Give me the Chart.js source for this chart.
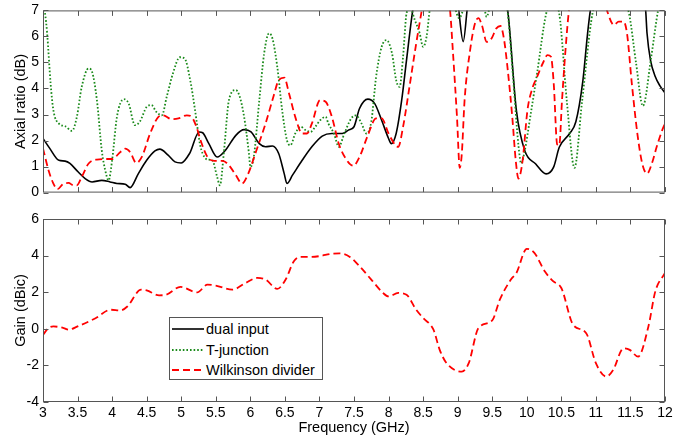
<!DOCTYPE html>
<html>
<head>
<meta charset="utf-8">
<script src="https://cdn.jsdelivr.net/npm/chart.js@4"></script>
<style>
  body { margin: 0; background: #fff; }
  #wrap { position: relative; width: 686px; height: 437px; overflow: hidden; font-family: "Liberation Sans", Arial, sans-serif; }
  #cTop { position: absolute; left: 0; top: 0; }
  #cBot { position: absolute; left: 0; top: 200px; }
  #legend { position: absolute; left: 169px; top: 317px; width: 152px; height: 61px; border: 1px solid #555; background: #fff; font-size: 14.5px; color: #000; }
  .row { position: absolute; left: 0; width: 152px; height: 20px; }
  .row svg { position: absolute; left: 2px; top: 0; }
  .row span { position: absolute; left: 36px; top: 1px; line-height: 18px; white-space: nowrap; }
</style>
</head>
<body>
<div id="wrap">
  <canvas id="cTop" width="686" height="200"></canvas>
  <canvas id="cBot" width="686" height="237"></canvas>
  <div id="legend"></div>
</div>
<script>
// ===== Data =====
const xMin = 3, xMax = 12;

// Axial ratio, dual input (black)
const freqDual = [3.0, 3.1, 3.23, 3.32, 3.39, 3.51, 3.61, 3.71, 3.85, 3.97, 4.07, 4.19, 4.26, 4.38, 4.5, 4.62, 4.69, 4.81, 4.91, 5.0,
  5.12, 5.26, 5.31, 5.4, 5.52, 5.64, 5.79, 5.91, 6.01, 6.13, 6.22, 6.32, 6.41, 6.49, 6.53, 6.61, 6.75, 6.89, 7.04, 7.18,
  7.33, 7.42, 7.5, 7.58, 7.7, 7.8, 7.9, 8.0, 8.04, 8.11, 8.19, 8.26, 8.35, 8.5, 8.8, 9.0, 9.08, 9.15, 9.4, 9.65,
  9.73, 9.85, 9.97, 10.13, 10.28, 10.39, 10.47, 10.62, 10.71, 10.81, 10.88, 10.92, 11.0, 11.3, 11.65, 11.72, 11.74, 11.79, 11.86, 11.93, 12.0];
const arDual = [2.08, 1.69, 1.24, 1.21, 1.12, 0.79, 0.54, 0.41, 0.47, 0.41, 0.35, 0.32, 0.19, 0.73, 1.24, 1.6, 1.67, 1.44, 1.18, 1.14,
  1.5, 2.33, 2.3, 1.88, 1.37, 1.63, 2.2, 2.42, 2.33, 1.88, 1.76, 1.79, 1.5, 0.73, 0.35, 0.67, 1.24, 1.76, 2.17, 2.27,
  2.27, 2.4, 2.53, 3.23, 3.59, 3.42, 2.78, 2.08, 1.88, 2.27, 3.55, 5.09, 7.0, 9.0, 9.0, 7.3, 5.8, 7.3, 9.0, 8.0,
  6.87, 3.15, 1.62, 1.1, 0.72, 0.99, 1.74, 2.27, 2.72, 4.26, 6.12, 7.0, 8.0, 9.0, 8.0, 7.0, 6.12, 5.09, 4.45, 4.09, 3.83];

// Axial ratio, T-junction (green)
const freqTj = [3.0, 3.03, 3.06, 3.11, 3.15, 3.23, 3.32, 3.42, 3.49, 3.56, 3.66, 3.71, 3.78, 3.85, 3.9, 3.95, 4.0, 4.07, 4.17, 4.24,
  4.33, 4.4, 4.5, 4.57, 4.64, 4.72, 4.79, 4.88, 4.98, 5.05, 5.13, 5.2, 5.27, 5.31, 5.38, 5.45, 5.52, 5.56, 5.62, 5.69,
  5.79, 5.84, 5.91, 5.98, 6.0, 6.05, 6.13, 6.2, 6.27, 6.32, 6.39, 6.46, 6.53, 6.58, 6.65, 6.73, 6.8, 6.87, 6.94, 7.01,
  7.09, 7.13, 7.21, 7.28, 7.36, 7.46, 7.53, 7.61, 7.68, 7.75, 7.82, 7.9, 7.97, 8.05, 8.11, 8.16, 8.21, 8.26, 8.31, 8.38,
  8.45, 8.5, 8.55, 8.6, 8.75, 8.95, 9.02, 9.1, 9.25, 9.38, 9.42, 9.47, 9.6, 9.72, 9.8, 9.88, 9.92, 9.97, 10.05, 10.15,
  10.28, 10.37, 10.47, 10.58, 10.69, 10.8, 10.95, 11.2, 11.48, 11.58, 11.68, 11.8, 11.9, 12.0];
const arTj = [7.3, 6.88, 6.12, 4.19, 3.17, 2.65, 2.55, 2.37, 2.91, 4.06, 4.77, 4.64, 3.55, 1.63, 0.86, 0.47, 1.24, 2.91, 3.59, 3.42,
  2.59, 2.72, 3.29, 3.36, 3.1, 2.97, 3.68, 4.58, 5.2, 5.15, 4.32, 3.17, 1.88, 1.5, 1.27, 1.24, 0.6, 0.28, 1.63, 3.55,
  3.94, 3.74, 2.91, 1.5, 0.99, 1.37, 3.55, 5.35, 6.12, 5.92, 4.83, 3.17, 2.01, 1.82, 2.27, 2.53, 2.4, 2.33, 2.53, 2.78,
  2.91, 2.65, 2.27, 1.76, 2.27, 2.85, 2.97, 2.65, 2.27, 2.72, 4.45, 5.6, 5.86, 5.35, 4.32, 4.06, 5.22, 6.88, 7.1, 6.63,
  6.12, 5.6, 5.99, 7.1, 8.5, 7.2, 6.7, 7.2, 8.5, 7.2, 6.75, 7.2, 8.0, 7.0, 4.5, 1.8, 1.12, 1.6, 2.9, 4.6,
  6.87, 7.4, 6.87, 3.5, 0.95, 3.5, 6.87, 8.5, 6.87, 5.0, 3.33, 5.2, 7.0, 8.0];

// Axial ratio, Wilkinson divider (red)
const freqWilk = [3.0, 3.08, 3.15, 3.21, 3.3, 3.37, 3.44, 3.49, 3.56, 3.66, 3.78, 3.9, 4.0, 4.12, 4.19, 4.26, 4.35, 4.43, 4.55, 4.67,
  4.74, 4.86, 4.96, 5.08, 5.15, 5.22, 5.28, 5.38, 5.48, 5.6, 5.69, 5.79, 5.88, 5.97, 6.08, 6.22, 6.34, 6.41, 6.49, 6.56,
  6.65, 6.75, 6.82, 6.89, 7.01, 7.09, 7.18, 7.28, 7.38, 7.49, 7.58, 7.7, 7.82, 7.9, 8.0, 8.1, 8.14, 8.21, 8.31, 8.4,
  8.48, 8.6, 8.8, 8.89, 8.93, 8.99, 9.03, 9.06, 9.1, 9.18, 9.25, 9.3, 9.35, 9.42, 9.49, 9.56, 9.62, 9.67, 9.72, 9.79,
  9.84, 9.88, 9.94, 10.01, 10.08, 10.15, 10.23, 10.3, 10.35, 10.39, 10.44, 10.47, 10.51, 10.56, 10.61, 10.7, 11.0, 11.16, 11.26, 11.33,
  11.4, 11.45, 11.52, 11.6, 11.67, 11.74, 11.81, 11.88, 11.96, 12.0];
const arWilk = [1.7, 0.86, 0.35, 0.13, 0.35, 0.37, 0.28, 0.28, 0.6, 1.12, 1.27, 1.29, 1.29, 1.56, 1.69, 1.56, 1.14, 1.37, 2.27, 2.91,
  2.97, 2.82, 2.85, 2.97, 2.91, 2.53, 2.01, 1.37, 1.22, 1.22, 1.05, 0.67, 0.35, 0.73, 1.56, 2.65, 3.74, 4.32, 4.42, 3.81,
  2.91, 2.27, 2.27, 2.65, 3.55, 3.49, 2.91, 1.88, 1.31, 1.03, 1.37, 2.2, 2.85, 2.85, 2.27, 1.82, 1.76, 2.53, 4.19, 5.73,
  7.0, 9.0, 8.5, 7.0, 5.47, 2.91, 0.95, 1.5, 3.55, 5.47, 6.5, 6.7, 6.44, 5.79, 5.92, 6.31, 6.4, 5.9, 4.83, 2.91,
  1.24, 0.54, 1.24, 3.17, 4.0, 4.45, 4.96, 5.28, 5.22, 4.19, 1.85, 1.82, 3.55, 5.47, 7.0, 8.5, 8.5, 7.0, 6.44, 6.57,
  6.57, 6.12, 4.19, 2.27, 1.12, 0.73, 1.12, 1.76, 2.4, 2.65];

// Gain (only the Wilkinson curve is visible)
const freqGain = [3.0, 3.08, 3.15, 3.3, 3.37, 3.5, 3.76, 3.98, 4.12, 4.22, 4.42, 4.5, 4.68, 4.77, 4.99, 5.23, 5.38, 5.5, 5.74, 5.93,
  6.1, 6.22, 6.39, 6.51, 6.63, 6.73, 6.87, 7.0, 7.19, 7.29, 7.44, 7.58, 7.75, 7.92, 8.0, 8.14, 8.26, 8.4, 8.5, 8.65,
  8.74, 8.84, 9.06, 9.16, 9.3, 9.5, 9.61, 9.77, 9.85, 10.0, 10.11, 10.26, 10.38, 10.5, 10.67, 10.86, 11.0, 11.15, 11.25, 11.4,
  11.49, 11.61, 11.76, 11.86, 12.0];
const gainWilk = [-0.33, 0.04, 0.13, 0.04, -0.05, 0.13, 0.58, 1.04, 1.0, 1.22, 2.14, 2.1, 1.83, 1.85, 2.29, 1.99, 2.41, 2.36, 2.14, 2.5,
  2.78, 2.69, 2.18, 2.69, 3.69, 3.93, 3.93, 3.97, 4.11, 4.12, 3.93, 3.42, 2.69, 1.96, 1.77, 1.96, 1.86, 1.04, 0.59, -0.05,
  -1.15, -1.88, -2.34, -1.88, 0.04, 0.46, 1.59, 2.69, 3.05, 4.37, 4.15, 3.14, 2.6, 2.23, 0.22, -0.24, -1.88, -2.61, -2.25, -1.06,
  -1.15, -1.52, 0.13, 2.05, 3.05];

const seriesNames = ['dual input', 'T-junction', 'Wilkinson divider'];
const seriesColors = ['#000000', '#1a8a1a', '#ff0000'];
const seriesDash = [[], [1.6, 2], [7, 4]];

const arTicks = [0, 7, 1];      // min, max, step
const gainTicks = [-4, 6, 2];

// ===== Helpers =====
function pts(xs, ys) {
    return xs.map((x, i) => ({ x: x, y: ys[i] }));
}

function makeSet(i, data) {
    return {
        label: seriesNames[i],
        data: data,
        borderColor: seriesColors[i],
        borderWidth: i === 0 ? 1.6 : 1.8,
        borderDash: seriesDash[i],
        pointRadius: 0,
        cubicInterpolationMode: 'monotone',
        order: 3 - i
    };
}

// axes box with inward tick marks, like the original
const boxPlugin = {
    id: 'boxPlugin',
    afterDatasetsDraw(chart) {
        const { ctx, chartArea: a, scales } = chart;
        const L = a.left + 0.5, R = a.right - 0.5, T = a.top + 0.5, B = a.bottom - 0.5;
        ctx.save();
        ctx.strokeStyle = '#555';
        ctx.lineWidth = 1;
        ctx.setLineDash([]);
        ctx.beginPath();
        scales.x.ticks.forEach(t => {
            const px = Math.round(scales.x.getPixelForValue(t.value)) + 0.5;
            ctx.moveTo(px, B); ctx.lineTo(px, B - 5);
            ctx.moveTo(px, T); ctx.lineTo(px, T + 5);
        });
        scales.y.ticks.forEach(t => {
            const py = Math.round(scales.y.getPixelForValue(t.value)) + 0.5;
            ctx.moveTo(L, py); ctx.lineTo(L + 5, py);
            ctx.moveTo(R, py); ctx.lineTo(R - 5, py);
        });
        ctx.stroke();
        ctx.strokeRect(L, T, R - L, B - T);
        ctx.restore();
    }
};

const tickFont = { family: '"Liberation Sans", Arial, sans-serif', size: 14 };
const titleFont = { family: '"Liberation Sans", Arial, sans-serif', size: 14.5 };
const plainNum = v => String(Math.round(v * 10) / 10);

function xAxis(showLabels, height) {
    return {
        type: 'linear', min: xMin, max: xMax,
        grid: { display: false, drawTicks: false },
        border: { display: false },
        ticks: { display: showLabels, stepSize: 0.5, padding: 3, color: '#000', font: tickFont, maxRotation: 0, autoSkip: false, callback: plainNum },
        title: { display: showLabels, text: 'Frequency (GHz)', color: '#000', font: titleFont, padding: 0 },
        afterFit(scale) { scale.height = height; }
    };
}

function yAxis(t, label) {
    return {
        min: t[0], max: t[1],
        grid: { display: false, drawTicks: false },
        border: { display: false },
        ticks: { stepSize: t[2], padding: 4, color: '#000', font: tickFont, callback: plainNum },
        title: { display: true, text: label, color: '#000', font: titleFont, padding: { top: 12, bottom: 0 } },
        afterFit(scale) { scale.width = 43; }
    };
}

function makeConfig(datasets, yTicks, yLabel, xLabels, xHeight, padTop) {
    return {
        type: 'line',
        data: { datasets: datasets },
        options: {
            responsive: false,
            maintainAspectRatio: false,
            animation: false,
            devicePixelRatio: 1,
            layout: { padding: { left: 0, right: 21, top: padTop, bottom: 0 } },
            plugins: { legend: { display: false }, tooltip: { enabled: false } },
            scales: { x: xAxis(xLabels, xHeight), y: yAxis(yTicks, yLabel) }
        },
        plugins: [boxPlugin]
    };
}

// build a chart, then size/shift its canvas so the plot box sits where it does in the figure
function build(id, cfgFn, areaTop, areaBottom) {
    const cv = document.getElementById(id);
    let chart = new Chart(cv, cfgFn());
    let a = chart.chartArea;
    const extra = Math.round((areaBottom - areaTop) - (a.bottom - a.top));
    if (extra !== 0) {
        const h = cv.height + extra;
        chart.destroy();
        cv.width = 686; cv.height = h;
        cv.style.width = '686px'; cv.style.height = h + 'px';
        chart = new Chart(cv, cfgFn());
        a = chart.chartArea;
    }
    cv.style.top = Math.round(areaTop - a.top) + 'px';
    return chart;
}

// ===== Axial ratio chart =====
build('cTop', () => makeConfig([
    makeSet(0, pts(freqDual, arDual)),
    makeSet(1, pts(freqTj, arTj)),
    makeSet(2, pts(freqWilk, arWilk))
], arTicks, 'Axial ratio (dB)', false, 8, 10), 10, 192);

// ===== Gain chart =====
const gainChart = build('cBot', () => makeConfig([
    makeSet(0, []),
    makeSet(1, []),
    makeSet(2, pts(freqGain, gainWilk))
], gainTicks, 'Gain (dBic)', true, 35, 19), 219, 402);

// ===== Legend (inside the gain axes) =====
const legendBox = document.getElementById('legend');
gainChart.data.datasets.forEach((ds, i) => {
    const row = document.createElement('div');
    row.className = 'row';
    row.style.top = (1 + i * 20.5) + 'px';
    const dash = ds.borderDash.length ? ds.borderDash.join(',') : 'none';
    row.innerHTML = '<svg width="32" height="20"><line x1="0" y1="10" x2="32" y2="10" stroke="' + ds.borderColor +
        '" stroke-width="' + ds.borderWidth + '" stroke-dasharray="' + dash + '"/></svg><span>' + ds.label + '</span>';
    legendBox.appendChild(row);
});
</script>
</body>
</html>
